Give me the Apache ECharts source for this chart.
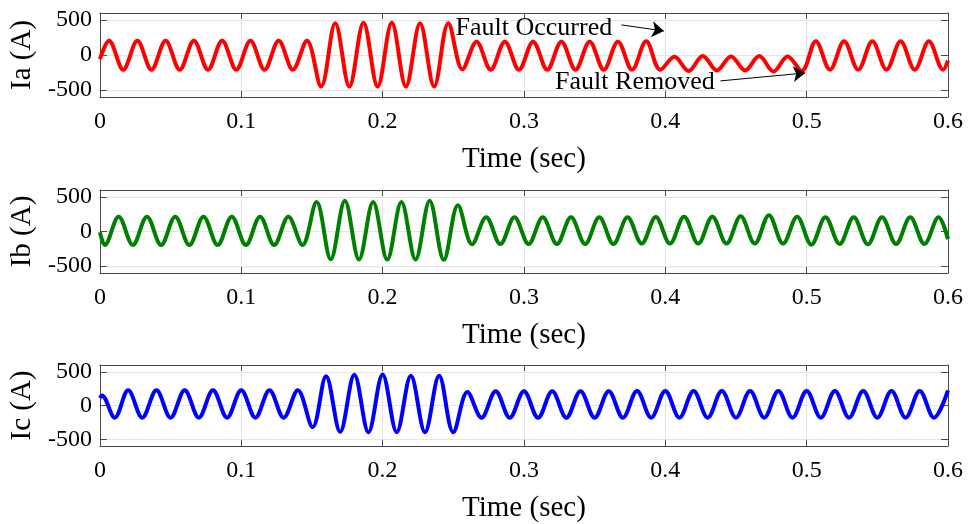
<!DOCTYPE html>
<html>
<head>
<meta charset="utf-8">
<script src="https://cdn.jsdelivr.net/npm/echarts@6/dist/echarts.min.js"></script>
<style>
  html, body { margin: 0; padding: 0; background: #fff; }
  #chart { width: 968px; height: 524px; }
</style>
</head>
<body>
<div id="chart"></div>
<script>
// axis ticks
const currentTicks = [-500, 0, 500];
const panelNames = ['Ia (A)', 'Ib (A)', 'Ic (A)'];

// peaks and troughs: [time (s), current (A)]
const iaPoints = [
  [0, -60],
  [0.0065, 205], [0.0165, -210], [0.0265, 205], [0.0365, -210], [0.0465, 205], [0.0565, -210],
  [0.0665, 205], [0.0765, -210], [0.0865, 205], [0.0965, -210], [0.1065, 205], [0.1165, -210],
  [0.1265, 205], [0.1365, -210], [0.1465, 205],
  [0.1565, -450], [0.1665, 455], [0.1765, -450], [0.1865, 460], [0.1965, -450], [0.2065, 460],
  [0.2165, -450], [0.2265, 455], [0.2365, -450], [0.2465, 455],
  [0.2565, -205], [0.2665, 190], [0.2765, -210], [0.2865, 190], [0.2965, -210], [0.3065, 190],
  [0.3165, -210], [0.3265, 190], [0.3365, -210], [0.3465, 190], [0.3565, -210], [0.3665, 190],
  [0.3765, -210], [0.3865, 195], [0.3965, -210],
  [0.4065, -25], [0.4165, -230], [0.4265, -15], [0.4365, -220], [0.4465, -20], [0.4565, -220],
  [0.4665, -15], [0.4765, -235], [0.4865, -20], [0.4965, -230],
  [0.5065, 195], [0.5165, -210], [0.5265, 195], [0.5365, -210], [0.5465, 195], [0.5565, -210],
  [0.5665, 195], [0.5765, -210], [0.5865, 195], [0.5965, -210], [0.6, -80]
];
const ibPoints = [
  [0, -10], [0.0035, -195],
  [0.0133, 213], [0.0233, -195], [0.0333, 213], [0.0433, -195], [0.0533, 213], [0.0633, -195],
  [0.0733, 213], [0.0833, -195], [0.0933, 213], [0.1033, -195], [0.1133, 213], [0.1233, -195],
  [0.1333, 213], [0.1433, -195],
  [0.1533, 425], [0.1633, -400], [0.1733, 445], [0.1833, -405], [0.1933, 425], [0.2033, -405],
  [0.2133, 425], [0.2233, -405], [0.2333, 445], [0.2433, -410], [0.2533, 380],
  [0.2633, -185], [0.2733, 205], [0.2833, -180], [0.2933, 205], [0.3033, -180], [0.3133, 205],
  [0.3233, -180], [0.3333, 205], [0.3433, -180], [0.3533, 205], [0.3633, -180], [0.3733, 205],
  [0.3833, -175], [0.3933, 210], [0.4033, -175], [0.4133, 215], [0.4233, -175], [0.4333, 215],
  [0.4433, -175], [0.4533, 220], [0.4633, -175], [0.4733, 235], [0.4833, -175], [0.4933, 215],
  [0.5033, -190], [0.5133, 205], [0.5233, -180], [0.5333, 205], [0.5433, -185], [0.5533, 205],
  [0.5633, -180], [0.5733, 205], [0.5833, -180], [0.5933, 205], [0.6, -110]
];
const icPoints = [
  [0, 110], [0.0015, 150],
  [0.0105, -180], [0.02, 225], [0.03, -180], [0.04, 225], [0.05, -180], [0.06, 225],
  [0.07, -180], [0.08, 225], [0.09, -180], [0.1, 225], [0.11, -180], [0.12, 225],
  [0.13, -180], [0.14, 225],
  [0.1505, -320], [0.16, 435], [0.17, -390], [0.18, 455], [0.19, -395], [0.2, 460],
  [0.21, -395], [0.22, 440], [0.23, -395], [0.24, 440], [0.25, -395],
  [0.26, 200], [0.27, -180], [0.28, 210], [0.29, -180], [0.3, 210], [0.31, -180],
  [0.32, 210], [0.33, -180], [0.34, 210], [0.35, -180], [0.36, 210], [0.37, -180],
  [0.38, 215], [0.39, -180], [0.4, 215], [0.41, -180], [0.42, 215], [0.43, -180],
  [0.44, 215], [0.45, -180], [0.46, 215], [0.47, -180], [0.48, 215], [0.49, -180],
  [0.5, 215], [0.51, -180], [0.52, 215], [0.53, -180], [0.54, 215], [0.55, -180],
  [0.56, 215], [0.57, -180], [0.58, 215], [0.59, -180], [0.6, 225]
];

const FONT = '"Liberation Serif", "DejaVu Serif", serif';
const FRAME = '#4a4a4a';
const gridTops = [13, 190, 365];
const gridHeights = [84, 83, 83];

const grids = [], xAxes = [], yAxes = [];
for (let i = 0; i < 3; i++) {
  grids.push({ left: 99, right: 20, top: gridTops[i], height: gridHeights[i] });
  // bottom time axis
  xAxes.push({
    type: 'value', gridIndex: i, min: 0, max: 0.6, interval: 0.1,
    name: 'Time (sec)', nameLocation: 'middle', nameGap: 48,
    nameTextStyle: { fontFamily: FONT, fontSize: 29, color: '#000' },
    axisLine: { onZero: false, lineStyle: { color: FRAME, width: 1 } },
    axisTick: { inside: true, length: 6, lineStyle: { color: FRAME } },
    axisLabel: { fontFamily: FONT, fontSize: 24, color: '#000', margin: 13 },
    splitLine: { show: true, lineStyle: { color: '#e4e4e4', width: 1 } }
  });
  // mirrored top axis
  xAxes.push({
    type: 'value', gridIndex: i, position: 'top', min: 0, max: 0.6, interval: 0.1,
    axisLine: { onZero: false, lineStyle: { color: FRAME, width: 1 } },
    axisTick: { inside: true, length: 6, lineStyle: { color: FRAME } },
    axisLabel: { show: false },
    splitLine: { show: false }
  });
  yAxes.push({
    type: 'value', gridIndex: i, min: -600, max: 600,
    name: panelNames[i], nameLocation: 'middle', nameGap: 56,
    nameTextStyle: { fontFamily: FONT, fontSize: 29, color: '#000' },
    axisLine: { show: true, onZero: false, lineStyle: { color: FRAME, width: 1 } },
    axisTick: { show: true, inside: true, length: 7, customValues: currentTicks, lineStyle: { color: FRAME } },
    axisLabel: { fontFamily: FONT, fontSize: 24, color: '#000', margin: 8, customValues: currentTicks },
    splitLine: { show: true, lineStyle: { color: '#e4e4e4', width: 1 } }
  });
  yAxes.push({
    type: 'value', gridIndex: i, position: 'right', min: -600, max: 600,
    axisLine: { show: true, onZero: false, lineStyle: { color: FRAME, width: 1 } },
    axisTick: { show: true, inside: true, length: 7, customValues: currentTicks, lineStyle: { color: FRAME } },
    axisLabel: { show: false },
    splitLine: { show: false }
  });
}

function wave(points, idx, color) {
  return {
    type: 'line', xAxisIndex: idx * 2, yAxisIndex: idx * 2,
    data: points, showSymbol: false, smooth: 0.35, animation: false,
    lineStyle: { color: color, width: 4 }
  };
}

const iaSeries = wave(iaPoints, 0, '#ff0000');
iaSeries.markLine = {
  silent: true, animation: false,
  symbol: ['none', 'arrow'], symbolSize: 12,
  label: { show: false },
  lineStyle: { color: '#000', width: 1, type: 'solid' },
  itemStyle: { color: '#000' },
  data: [
    [{ coord: [0.369, 430] }, { coord: [0.399, 343] }],
    [{ coord: [0.439, -370] }, { coord: [0.499, -257] }]
  ]
};
iaSeries.markPoint = {
  silent: true, animation: false, symbolSize: 0,
  label: { show: true, position: 'inside', fontFamily: FONT, fontSize: 26, color: '#000' },
  data: [
    { coord: [0.307, 386], label: { formatter: 'Fault Occurred' } },
    { coord: [0.3785, -395], label: { formatter: 'Fault Removed' } }
  ]
};

const chart = echarts.init(document.getElementById('chart'));
chart.setOption({
  animation: false,
  backgroundColor: '#fff',
  grid: grids,
  xAxis: xAxes,
  yAxis: yAxes,
  series: [iaSeries, wave(ibPoints, 1, '#008000'), wave(icPoints, 2, '#0000ff')]
});
</script>
</body>
</html>
